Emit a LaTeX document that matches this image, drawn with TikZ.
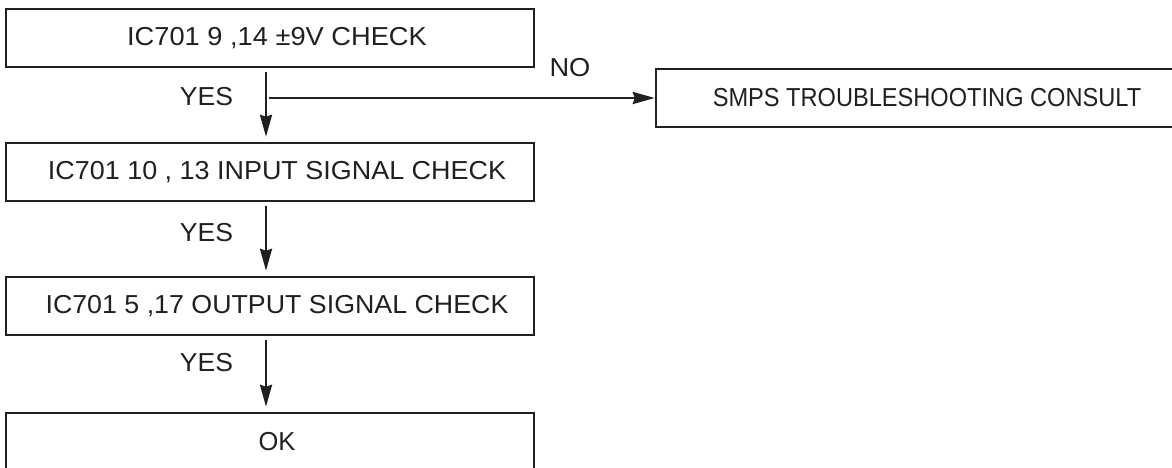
\documentclass[tikz,border=0pt]{standalone}
\usepackage{fontspec}
\setmainfont{Liberation Sans}
\usetikzlibrary{arrows.meta}
\definecolor{ink}{RGB}{35,31,32}
\begin{document}
\begin{tikzpicture}[x=1pt,y=-1pt,
  box/.style={draw=ink, line width=2.5pt, minimum width=528pt, minimum height=58pt,
    inner sep=0pt, text=ink, font=\fontsize{26}{31}\selectfont},
  lbl/.style={text=ink, inner sep=0pt, font=\fontsize{26}{31}\selectfont},
  arr/.style={draw=ink, line width=2.5pt, -{Stealth[length=22pt,width=12pt,inset=2pt]}}
]
\useasboundingbox (0,0) rectangle (1172,468);
\node[box] (b1) at (270,38) {\hspace{14pt}\scalebox{1.048}[1]{IC701 9 ,14 ±9V CHECK}};
\node[box] (b2) at (270,172) {\hspace{14pt}\scalebox{1.036}[1]{IC701 10 , 13 INPUT SIGNAL CHECK}};
\node[box] (b3) at (270,306) {\hspace{14pt}\scalebox{1.03}[1]{IC701 5 ,17 OUTPUT SIGNAL CHECK}};
\node[box] (b4) at (270,442) {\hspace{14pt}\scalebox{0.98}[1]{OK}};
\node[box, minimum width=542pt] (smps) at (927,98) {\scalebox{0.908}[1]{SMPS TROUBLESHOOTING CONSULT}};

\node[lbl] (yes1) at (206.5,97) {\scalebox{1.02}[1]{YES}};
\node[lbl] (yes2) at (206.5,232.5) {\scalebox{1.02}[1]{YES}};
\node[lbl] (yes3) at (206.5,363) {\scalebox{1.02}[1]{YES}};
\node[lbl] (no) at (570,68) {\scalebox{1.048}[1]{NO}};

\draw[arr, shorten <=4pt, shorten >=5pt] ([xshift=-4pt]b1.south) -- ([xshift=-4pt]b2.north);
\draw[arr, shorten <=4pt, shorten >=5pt] ([xshift=-4pt]b2.south) -- ([xshift=-4pt]b3.north);
\draw[arr, shorten <=4pt, shorten >=5pt] ([xshift=-4pt]b3.south) -- ([xshift=-4pt]b4.north);
\coordinate (j1) at ([xshift=-1pt]b1.south |- smps.west);
\draw[arr] (j1) -- (smps.west);
\end{tikzpicture}
\end{document}
